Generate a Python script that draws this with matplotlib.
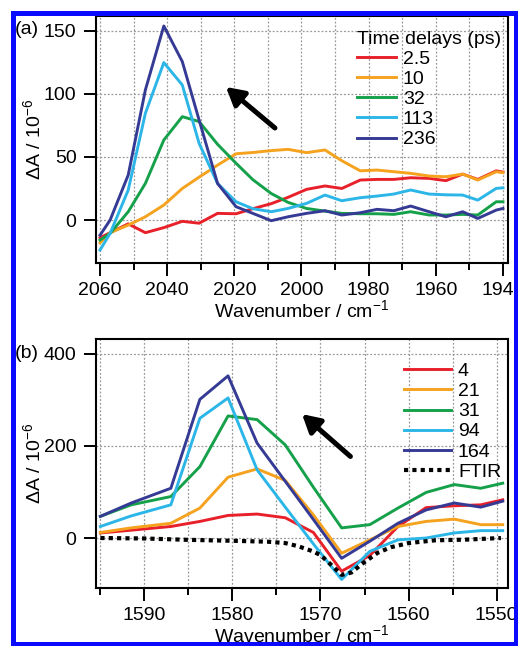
import matplotlib
matplotlib.use("Agg")
import matplotlib.pyplot as plt
from matplotlib.patches import Rectangle
from matplotlib.ticker import MultipleLocator

plt.rcParams['font.family'] = ['Liberation Sans', 'DejaVu Sans']
plt.rcParams['font.size'] = 14
plt.rcParams['mathtext.fontset'] = 'custom'
plt.rcParams['mathtext.rm'] = 'Liberation Sans'
plt.rcParams['mathtext.it'] = 'Liberation Sans:italic'

# panel (a): time-resolved spectra, 2060-1940 cm-1
xa = [2060, 2057, 2051.6, 2046.5, 2041, 2035.5, 2030.5, 2025, 2019.5, 2014.5, 2009, 2004,
      1998.5, 1993, 1988, 1982.5, 1977.5, 1972.5, 1967.5, 1962, 1957, 1952, 1947.5, 1942, 1940]
red_a = [-14, -10, -3, -10, -6, -1, -2.5, 5.3, 5, 9, 13, 18,
         24.3, 27, 25, 31.7, 32.2, 32.2, 33.5, 33, 31.2, 36.4, 32.2, 39, 38]
orange_a = [-18, -10, -4, 2.6, 11.9, 25, 34, 43.5, 52.5, 53.5, 55, 56,
            53.4, 55.5, 47, 39, 39.6, 38.3, 37, 34.9, 34.3, 36.4, 31.7, 38.3, 37.5]
green_a = [-15.8, -10.6, 6.6, 29, 63.4, 81.9, 78, 60, 45, 32, 21, 14,
           9.2, 7.1, 5.3, 5, 5, 4.5, 6.6, 4, 4, 4.5, 4, 14.5, 14.5]
cyan_a = [-23.7, -10.6, 23.8, 84.5, 124.7, 107, 60.8, 29, 14.5, 9, 6.6, 9.2,
          13.2, 19.8, 15.3, 17.7, 19, 20.6, 23.8, 20.6, 20, 19.8, 15.8, 25.1, 25.5]
navy_a = [-12, 0, 35.7, 103, 153.7, 125.5, 79.3, 29, 10.6, 5.3, -0.5, 2.6,
          5.3, 7.4, 4, 5.8, 8.5, 7.4, 11.1, 6.6, 2.6, 6.6, 1.3, 7.9, 9.2]
labels_a = ['2.5', '10', '32', '113', '236']

# panel (b): 1595-1549 cm-1
xb = [1595, 1591.5, 1587, 1583.7, 1580.5, 1577.2, 1574, 1570.8, 1567.6, 1564.4,
      1561.2, 1558, 1554.8, 1551.8, 1549.3]
red_b = [11, 17, 25, 36, 49, 52, 44, 12, -72, -38, 25, 66, 70, 72, 83]
orange_b = [12, 22, 32, 65, 132, 150, 125, 50, -33, -4, 25, 36, 41, 29, 29]
green_b = [47, 72, 90, 155, 265, 257, 202, 110, 22, 29, 65, 99, 116, 108, 119]
cyan_b = [25, 48, 72, 260, 304, 148, 67, -13, -90, -29, -4, 0, 11, 16, 16]
navy_b = [47, 76, 108, 301, 352, 206, 123, 40, -44, -7, 32, 61, 76, 67, 80]
labels_b = ['4', '21', '31', '94', '164']

xf = [1595, 1590, 1585, 1580, 1576, 1574, 1572.5, 1571, 1570, 1568.8, 1567.6, 1566.5,
      1565.2, 1563.5, 1562, 1560, 1557, 1553.5, 1549.5]
ftir = [0, -1, -4, -6, -8, -11, -18, -28, -37, -58, -80, -75, -55, -32, -20, -11, -5, -3.5, 0]

colors = ['#e8202a', '#f5a21e', '#15a04a', '#2cb6e8', '#353a94']

W, H = 518, 646
fig = plt.figure(figsize=(W / 100, H / 100), dpi=100)


def px_axes(left, top, right, bottom):
    return fig.add_axes([left / W, 1 - bottom / H, (right - left) / W, (bottom - top) / H])


def style(ax):
    for s in ax.spines.values():
        s.set_linewidth(1.5)
    ax.tick_params(axis='y', which='major', direction='out', length=9, width=1.4, pad=5)
    ax.tick_params(axis='x', which='major', direction='out', length=9.5, width=1.4, pad=4.5)
    ax.tick_params(axis='x', which='minor', direction='out', length=5, width=1.4)
    ax.grid(True, which='both', axis='x', linestyle=(0, (1.5, 1.5)), color='#999999', lw=0.9)
    ax.grid(True, which='major', axis='y', linestyle=(0, (1.5, 1.5)), color='#999999', lw=0.9)
    ax.set_axisbelow(True)


ylab = r'ΔA / 10$^{-6}$'
xlab = r'Wavenumber / cm$^{-1}$'
arrow = dict(arrowstyle='-|>,head_length=0.75,head_width=0.42', lw=3.6,
             color='black', shrinkA=0, shrinkB=0)

# ---- (a)
ax1 = px_axes(96, 16, 508, 263)
for ys, c, lab in zip([red_a, orange_a, green_a, cyan_a, navy_a], colors, labels_a):
    ax1.plot(xa, ys, color=c, lw=2.1, label=lab)
ax1.set_xlim(2061.2, 1938.5)
ax1.set_ylim(-34, 161.6)
ax1.xaxis.set_major_locator(MultipleLocator(20))
ax1.xaxis.set_minor_locator(MultipleLocator(10))
ax1.yaxis.set_major_locator(MultipleLocator(50))
style(ax1)
ax1.set_xlabel(xlab, labelpad=0)
ax1.set_ylabel(ylab, labelpad=0)
ax1.legend(title='Time delays (ps)', loc='upper left', bbox_to_anchor=(0.61, 0.98),
           frameon=False, borderpad=0, labelspacing=0.13, handlelength=2.0,
           handletextpad=0.35, alignment='left', title_fontsize=14)
ax1.annotate('', xy=(2022.5, 105.4), xytext=(2007.9, 72.9), arrowprops=arrow)

# ---- (b)
ax2 = px_axes(96, 339, 508, 588)
for ys, c, lab in zip([red_b, orange_b, green_b, cyan_b, navy_b], colors, labels_b):
    ax2.plot(xb, ys, color=c, lw=2.1, label=lab)
ax2.plot(xf, ftir, color='black', lw=3, linestyle=(0, (1, 1)), label='FTIR')
ax2.set_xlim(1595.5, 1548.7)
ax2.set_ylim(-108.5, 432)
ax2.xaxis.set_major_locator(MultipleLocator(10))
ax2.xaxis.set_minor_locator(MultipleLocator(5))
ax2.yaxis.set_major_locator(MultipleLocator(200))
style(ax2)
ax2.set_xlabel(xlab, labelpad=0)
ax2.set_ylabel(ylab, labelpad=0)
ax2.legend(loc='upper left', bbox_to_anchor=(0.725, 0.945), frameon=False, borderpad=0,
           labelspacing=0.13, handlelength=2.4, handletextpad=0.35)
ax2.annotate('', xy=(1572.1, 269), xytext=(1566.6, 177), arrowprops=arrow)

fig.text(15 / W, 1 - 29 / H, '(a)', ha='left', va='center')
fig.text(15 / W, 1 - 354 / H, '(b)', ha='left', va='center')

# blue frame around the figure
fig.add_artist(Rectangle((12.5 / W, 2.5 / H), (515.5 - 12.5) / W, (643.5 - 12.5) / H,
                         transform=fig.transFigure, fill=False, edgecolor='#0a0aff',
                         lw=5 * 72 / 100, zorder=20))

fig.savefig('out.png', dpi=100)
